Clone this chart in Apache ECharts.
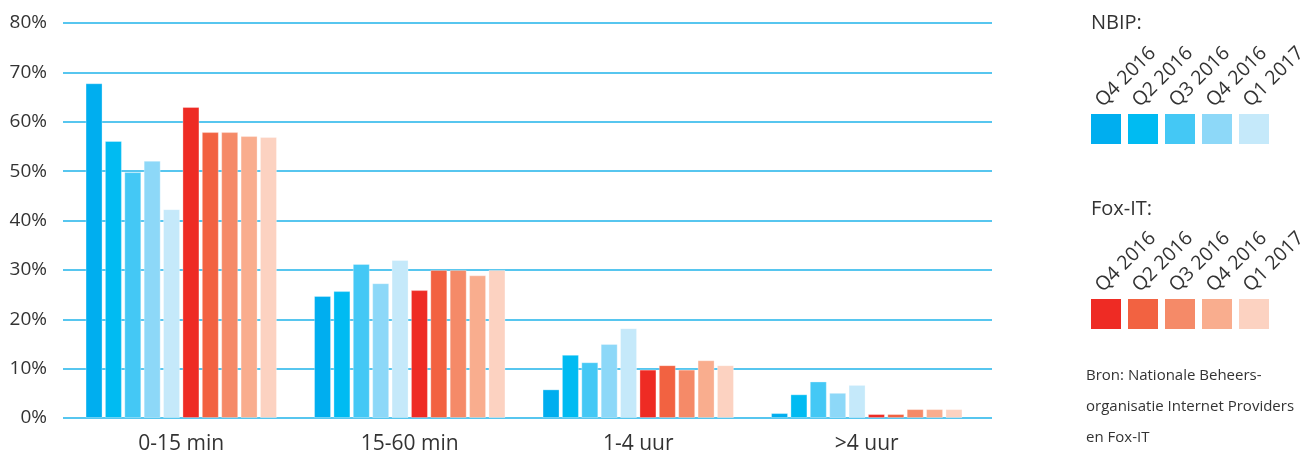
<!DOCTYPE html>
<html>
<head>
<meta charset="utf-8">
<script src="https://cdn.jsdelivr.net/npm/echarts@6/dist/echarts.min.js"></script>
<style>
html,body{margin:0;padding:0;background:#fff;}
#chart{width:1312px;height:457px;}
</style>
</head>
<body>
<div id="chart"></div>
<script>
// ---- data ----
const categories = ['0-15 min', '15-60 min', '1-4 uur', '>4 uur'];
const periodLabels = ['Q4 2016', 'Q2 2016', 'Q3 2016', 'Q4 2016', 'Q1 2017'];
const nbip1 = [67.8, 24.7, 5.8, 1.0];
const nbip2 = [56.1, 25.7, 12.8, 4.8];
const nbip3 = [49.8, 31.2, 11.3, 7.4];
const nbip4 = [52.1, 27.3, 15.0, 5.1];
const nbip5 = [42.3, 32.0, 18.2, 6.7];
const fox1 = [63.0, 25.9, 9.8, 0.8];
const fox2 = [57.9, 30.0, 10.7, 0.8];
const fox3 = [57.9, 30.0, 9.8, 1.8];
const fox4 = [57.1, 28.9, 11.7, 1.8];
const fox5 = [56.9, 30.0, 10.7, 1.8];
const yMin = 0, yMax = 80, yStep = 10;
const groupTitles = ['NBIP:', 'Fox-IT:'];
const sourceLines = ['Bron: Nationale Beheers-', 'organisatie Internet Providers', 'en Fox-IT'];

// ---- styles ----
const blueColors = ['#00aeef', '#00bbf2', '#44c8f5', '#8dd8f8', '#c5e9fa'];
const redColors = ['#ee2b24', '#f26241', '#f58a68', '#f9ad8e', '#fcd2c1'];
const FONT = '"Open Sans", "Noto Sans", sans-serif';
const TXT = '#333333';

const nbipSeries = [nbip1, nbip2, nbip3, nbip4, nbip5];
const foxSeries = [fox1, fox2, fox3, fox4, fox5];

const series = [];
nbipSeries.forEach((d, i) => series.push({
  name: 'NBIP ' + periodLabels[i], type: 'bar', xAxisIndex: 1, yAxisIndex: 1,
  data: d, barWidth: 17, barGap: '14%',
  itemStyle: { color: blueColors[i], borderColor: 'rgba(255,255,255,0.3)', borderWidth: 1 }
}));
foxSeries.forEach((d, i) => series.push({
  name: 'Fox-IT ' + periodLabels[i], type: 'bar', xAxisIndex: 1, yAxisIndex: 1,
  data: d, barWidth: 17, barGap: '14%',
  itemStyle: { color: redColors[i], borderColor: 'rgba(255,255,255,0.3)', borderWidth: 1 }
}));

// legend graphics
const graphic = [];
const legendBlocks = [
  { title: groupTitles[0], titleY: 13, squareY: 114, colors: blueColors },
  { title: groupTitles[1], titleY: 199, squareY: 299, colors: redColors }
];
legendBlocks.forEach(b => {
  graphic.push({ type: 'text', left: 1091, top: b.titleY,
    style: { text: b.title, font: '400 20px ' + FONT, fill: TXT } });
  b.colors.forEach((c, i) => {
    const x = 1091 + i * 37;
    graphic.push({ type: 'rect', shape: { x: x, y: b.squareY, width: 30, height: 30 }, style: { fill: c } });
    graphic.push({ type: 'text', x: x + 15, y: b.squareY - 3, rotation: Math.PI / 4,
      style: { text: periodLabels[i], font: '400 19.5px ' + FONT, fill: TXT,
        textAlign: 'left', textVerticalAlign: 'bottom' } });
  });
});
sourceLines.forEach((t, i) => {
  graphic.push({ type: 'text', left: 1086, top: 368 + i * 31,
    style: { text: t, font: '400 15px ' + FONT, fill: TXT } });
});

const option = {
  animation: false,
  backgroundColor: '#ffffff',
  grid: [
    { left: 63, right: 320, top: 23, bottom: 39 },
    { left: 67, width: 914, top: 23, bottom: 39 }
  ],
  xAxis: [
    { type: 'category', gridIndex: 0, data: categories, show: false },
    { type: 'category', gridIndex: 1, data: categories,
      axisLine: { show: false }, axisTick: { show: false },
      axisLabel: { color: TXT, fontSize: 21, fontFamily: FONT, margin: 16 } }
  ],
  yAxis: [
    { type: 'value', gridIndex: 0, min: yMin, max: yMax, interval: yStep,
      axisLine: { show: false }, axisTick: { show: false },
      axisLabel: { formatter: '{value}%', color: TXT, fontSize: 19, fontFamily: FONT, margin: 16 },
      splitLine: { show: true, lineStyle: { color: '#1fb3ea', width: 1.5 } } },
    { type: 'value', gridIndex: 1, min: yMin, max: yMax, interval: yStep, show: false,
      splitLine: { show: false } }
  ],
  series: series,
  graphic: graphic
};

const chart = echarts.init(document.getElementById('chart'), null, { renderer: 'canvas' });
chart.setOption(option);
</script>
</body>
</html>
